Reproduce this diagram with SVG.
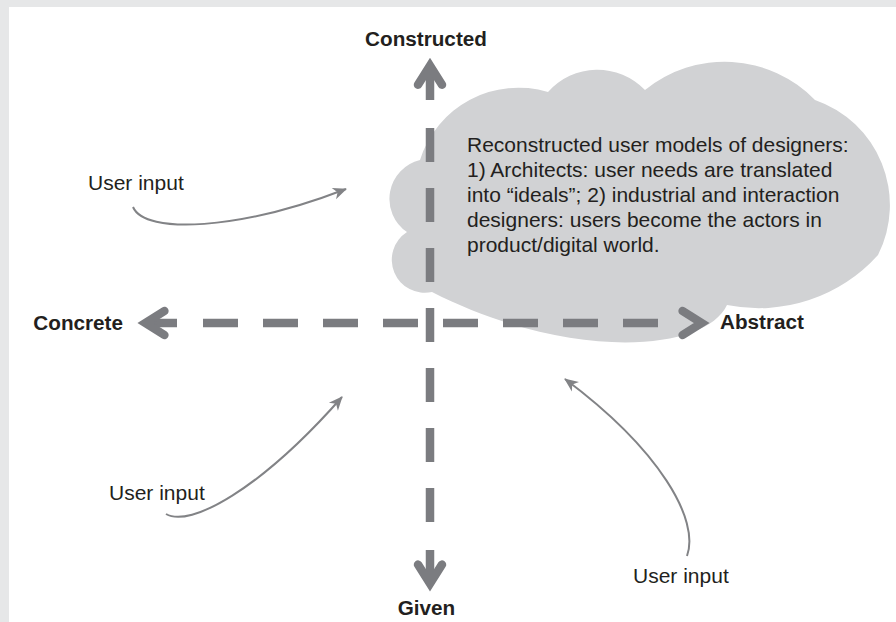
<svg xmlns="http://www.w3.org/2000/svg" width="896" height="622" viewBox="0 0 896 622">
  <style>
    .bold { font-family: "Liberation Sans", Arial, sans-serif; font-weight: bold; font-size: 20.7px; fill: #231f20; }
    .reg { font-family: "Liberation Sans", Arial, sans-serif; font-size: 21px; fill: #231f20; }
    .axis { stroke: #7b7c80; stroke-width: 8.5; fill: none; }
    .dash { stroke-linecap: butt; }
    .chev { stroke-linecap: round; stroke-linejoin: miter; stroke-miterlimit: 10; }
    .ui { stroke: #828386; stroke-width: 2; fill: none; marker-end: url(#ah); }
  </style>
  <defs>
    <marker id="ah" markerUnits="userSpaceOnUse" viewBox="-14 -7 16 14" refX="0" refY="0" markerWidth="16" markerHeight="14" orient="auto">
      <path d="M1,0 L-13,-6 L-9,0 L-13,6 Z" fill="#828386"/>
    </marker>
  </defs>

  <g id="frame">
    <rect x="0" y="0" width="896" height="622" fill="#e6e7e8"/>
    <rect x="9" y="7" width="887" height="615" fill="#ffffff"/>
  </g>

  <g id="cloud">
    <path d="M407,232 A40,40 0 0 1 420,160 A103,103 0 0 1 548,92 A66,66 0 0 1 645,90 A126,126 0 0 1 815,100 A111,111 0 0 1 878,255 A160,160 0 0 1 727,305 C705,352 570,362 432,292 A33,33 0 0 1 407,232 Z" fill="#d1d2d4"/>
    <text class="reg" x="467">
      <tspan x="467" y="152">Reconstructed user models of designers:</tspan>
      <tspan x="467" y="177">1) Architects: user needs are translated</tspan>
      <tspan x="467" y="202">into “ideals”; 2) industrial and interaction</tspan>
      <tspan x="467" y="227">designers: users become the actors in</tspan>
      <tspan x="467" y="252">product/digital world.</tspan>
    </text>
  </g>

  <g id="connectors">
    <line class="axis dash" x1="430" y1="100" x2="430" y2="66"/>
    <polyline class="axis chev" points="418,84.7 430,65.7 442,84.7"/>
    <line class="axis dash" x1="430" y1="128" x2="430" y2="522" stroke-dasharray="34 26"/>
    <line class="axis dash" x1="430" y1="550" x2="430" y2="583"/>
    <polyline class="axis chev" points="418,564.6 430,583.6 442,564.6"/>
    <line class="axis dash" x1="145" y1="323" x2="177" y2="323"/>
    <polyline class="axis chev" points="164.4,311 145.4,323 164.4,335"/>
    <line class="axis dash" x1="203" y1="323" x2="660" y2="323" stroke-dasharray="35 25"/>
    <polyline class="axis chev" points="682.6,311 701.6,323 682.6,335"/>
    <path class="ui" d="M133,207 C145,235 240,230 346,189"/>
    <path class="ui" d="M166,514 C190,528 260,490 342,397"/>
    <path class="ui" d="M687,556 C700,520 660,450 565,379"/>
  </g>

  <g id="label-constructed"><text class="bold" x="426" y="46" text-anchor="middle">Constructed</text></g>
  <g id="label-given"><text class="bold" x="426.5" y="615" text-anchor="middle">Given</text></g>
  <g id="label-concrete"><text class="bold" x="123" y="330" text-anchor="end">Concrete</text></g>
  <g id="label-abstract"><text class="bold" x="720" y="329">Abstract</text></g>
  <g id="user-input-1"><text class="reg" x="88" y="190">User input</text></g>
  <g id="user-input-2"><text class="reg" x="109" y="500">User input</text></g>
  <g id="user-input-3"><text class="reg" x="633" y="583">User input</text></g>
</svg>
